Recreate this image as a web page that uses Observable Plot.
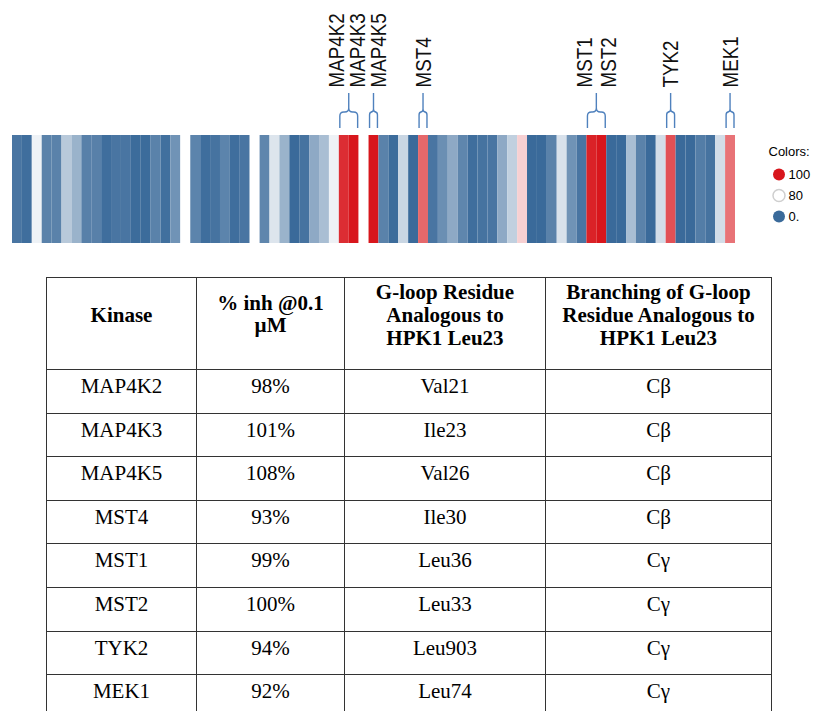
<!DOCTYPE html>
<html>
<head>
<meta charset="utf-8">
<script src="https://cdn.jsdelivr.net/npm/d3@7"></script>
<script src="https://cdn.jsdelivr.net/npm/@observablehq/plot@0.6"></script>
<style>
html, body { margin: 0; padding: 0; overflow: hidden; background: #fff; width: 816px; height: 711px; }
#wrap { position: relative; width: 816px; height: 711px; }
#strip { position: absolute; left: 0; top: 0; }
#legend { position: absolute; left: 768px; top: 130px; }
#tbl { position: absolute; left: 46px; top: 277px; border-collapse: collapse; table-layout: fixed;
  font-family: "Liberation Serif", "Times New Roman", serif; font-size: 21px; color: #000; }
#tbl td, #tbl th { border: 1.5px solid #333; text-align: center; padding: 0; box-sizing: border-box; }
#tbl th { font-weight: bold; line-height: 23px; vertical-align: middle; height: 92px; padding-bottom: 17px; }
#tbl th.short { line-height: 22px; padding-bottom: 20px; }
#tbl td { height: 43.6px; vertical-align: top; padding-top: 5px; line-height: 23px; }
</style>
</head>
<body>
<div id="wrap">
  <div id="strip"></div>
  <div id="legend"></div>
  <table id="tbl"></table>
</div>
<script>
// ---- heat strip data (percent inhibition @0.1 µM, one value per kinase cell) ----
const cellValues = [
  6, 2, 73, 13, 13, 51, 39, 12, 12, 2,
  6, 6, 1, 1, 13, 3, 22, 80, 14, 2,
  5, 14, 2, 6, 80, 15, 66, 39, 0, 5,
  34, 45, 73, 98, 101, 80, 108, 13, 1, 58,
  0, 93, 6, 20, 34, 15, 2, 5, 6, 34,
  55, 84, 0, 0, 13, 64, 22, 6, 99, 100,
  0, 0, 45, 13, 0, 62, 95, 0, 0, 10,
  5, 62, 92
];

// ---- labelled kinases ----
const kinases = ["MAP4K2", "MAP4K3", "MAP4K5", "MST4", "MST1", "MST2", "TYK2", "MEK1"];
const labelCells = [33, 34, 36, 41, 58, 59, 66, 72];

// ---- legend ----
const legendLabels = ["100", "80", "0."];
const legendValues = [100, 80, 0];

// ---- table ----
const inhibition = ["98%", "101%", "108%", "93%", "99%", "100%", "94%", "92%"];
const residues = ["Val21", "Ile23", "Val26", "Ile30", "Leu36", "Leu33", "Leu903", "Leu74"];
const branching = ["Cβ", "Cβ", "Cβ", "Cβ", "Cγ", "Cγ", "Cγ", "Cγ"];
const headerLines = [["Kinase"], ["% inh @0.1", "µM"], ["G-loop Residue", "Analogous to", "HPK1 Leu23"], ["Branching of G-loop", "Residue Analogous to", "HPK1 Leu23"]];

// ---- color scale ----
const colorScale = {
  type: "linear",
  domain: [0, 80, 100],
  range: ["#3a6a9a", "#ffffff", "#d8161c"],
  interpolate: "rgb",
  clamp: true
};

// ---- groups of adjacent labelled cells ----
const groups = [];
labelCells.forEach((c, i) => {
  const last = groups[groups.length - 1];
  if (last && c === last.cells[last.cells.length - 1] + 1) { last.cells.push(c); last.names.push(kinases[i]); }
  else groups.push({cells: [c], names: [kinases[i]]});
});

const W = 816, H = 250, mL = 12, mR = 81, mT = 135, mB = 7;
const cellPx = (W - mL - mR) / cellValues.length;
const labelGapPx = 24, minGapPx = 21;
const labelData = [];
groups.forEach(g => {
  const center = g.cells[0] + g.cells.length / 2;
  g.names.forEach((n, k) => {
    labelData.push({name: n, px: center * cellPx + (k - (g.names.length - 1) / 2) * labelGapPx});
  });
});
// push overlapping labels apart
for (let it = 0; it < 20; it++) {
  for (let i = 1; i < labelData.length; i++) {
    const d = labelData[i].px - labelData[i - 1].px;
    if (d < minGapPx) { const s = (minGapPx - d) / 2; labelData[i - 1].px -= s; labelData[i].px += s; }
  }
}
labelData.forEach(d => d.x = d.px / cellPx);

function brackets(index, scales, values, dims) {
  const g = d3.create("svg:g").attr("fill", "none").attr("stroke", "#4f81bd").attr("stroke-width", 1.4);
  const top = dims.marginTop;
  const yb = top - 7, yh = top - 23, ys = top - 42;
  for (const grp of groups) {
    const xl = scales.x(grp.cells[0]) + 1;
    const xr = scales.x(grp.cells[grp.cells.length - 1] + 1) - 1;
    const xm = (xl + xr) / 2;
    const r = Math.min(4, (xm - xl) / 1.5);
    const p = d3.path();
    p.moveTo(xl, yb); p.lineTo(xl, yh + r);
    p.quadraticCurveTo(xl, yh, xl + r, yh); p.lineTo(xm - r, yh);
    p.quadraticCurveTo(xm, yh, xm, yh - r); p.lineTo(xm, ys);
    p.moveTo(xm, yh - r); p.quadraticCurveTo(xm, yh, xm + r, yh);
    p.lineTo(xr - r, yh); p.quadraticCurveTo(xr, yh, xr, yh + r); p.lineTo(xr, yb);
    g.append("path").attr("d", p.toString());
  }
  return g.node();
}

const strip = Plot.plot({
  width: W, height: H,
  marginLeft: mL, marginRight: mR, marginTop: mT, marginBottom: mB,
  style: {fontFamily: "'Liberation Sans', Arial, sans-serif", fontSize: "18px", background: "#fff"},
  x: {domain: [0, cellValues.length], axis: null},
  color: colorScale,
  marks: [
    Plot.rect(cellValues, {x1: (d, i) => i, x2: (d, i) => i + 1, fill: d => d}),
    brackets,
    Plot.text(labelData, {x: "x", text: "name", frameAnchor: "top", lineAnchor: "middle", rotate: -90, textAnchor: "start", dy: -48, fill: "#111", fontSize: 22})
  ]
});
// narrow the label glyphs a little (Calibri-like proportions)
strip.querySelectorAll("g[aria-label='text'] text").forEach(t => {
  t.setAttribute("transform", (t.getAttribute("transform") || "") + " scale(0.855,1)");
});
document.getElementById("strip").appendChild(strip);

const legendRows = legendLabels.map((l, i) => ({label: l, value: legendValues[i]}));
const legend = Plot.plot({
  width: 48, height: 100,
  marginTop: 43.5, marginBottom: 14, marginLeft: 0, marginRight: 0,
  style: {fontFamily: "'Liberation Sans', Arial, sans-serif", fontSize: "13px", background: "transparent", overflow: "visible"},
  y: {type: "point", domain: legendLabels, padding: 0, axis: null},
  color: colorScale,
  marks: [
    Plot.text(["Colors:"], {text: d => d, frameAnchor: "top-left", lineAnchor: "middle", dy: -22.5, textAnchor: "start", fill: "#000"}),
    Plot.dot(legendRows, {y: "label", fill: "value", r: 6, frameAnchor: "left", dx: 10.5}),
    Plot.dot(legendRows.filter(d => d.value === 80), {y: "label", r: 6, frameAnchor: "left", dx: 10.5, stroke: "#cfcfcf", fill: "none"}),
    Plot.text(legendRows, {y: "label", text: "label", frameAnchor: "left", dx: 20, textAnchor: "start", fill: "#000"})
  ]
});
document.getElementById("legend").appendChild(legend);

// ---- table ----
const tbl = document.getElementById("tbl");
const colW = [150, 148, 201, 226];
const cg = document.createElement("colgroup");
colW.forEach(w => { const c = document.createElement("col"); c.style.width = w + "px"; cg.appendChild(c); });
tbl.appendChild(cg);
const htr = document.createElement("tr");
headerLines.forEach((lines, i) => {
  const th = document.createElement("th");
  if (i === 1) th.className = "short";
  lines.forEach((t, k) => { if (k) th.appendChild(document.createElement("br")); th.appendChild(document.createTextNode(t)); });
  htr.appendChild(th);
});
tbl.appendChild(htr);
kinases.forEach((k, i) => {
  const tr = document.createElement("tr");
  [k, inhibition[i], residues[i], branching[i]].forEach(v => {
    const td = document.createElement("td"); td.textContent = v; tr.appendChild(td);
  });
  tbl.appendChild(tr);
});
</script>
</body>
</html>
